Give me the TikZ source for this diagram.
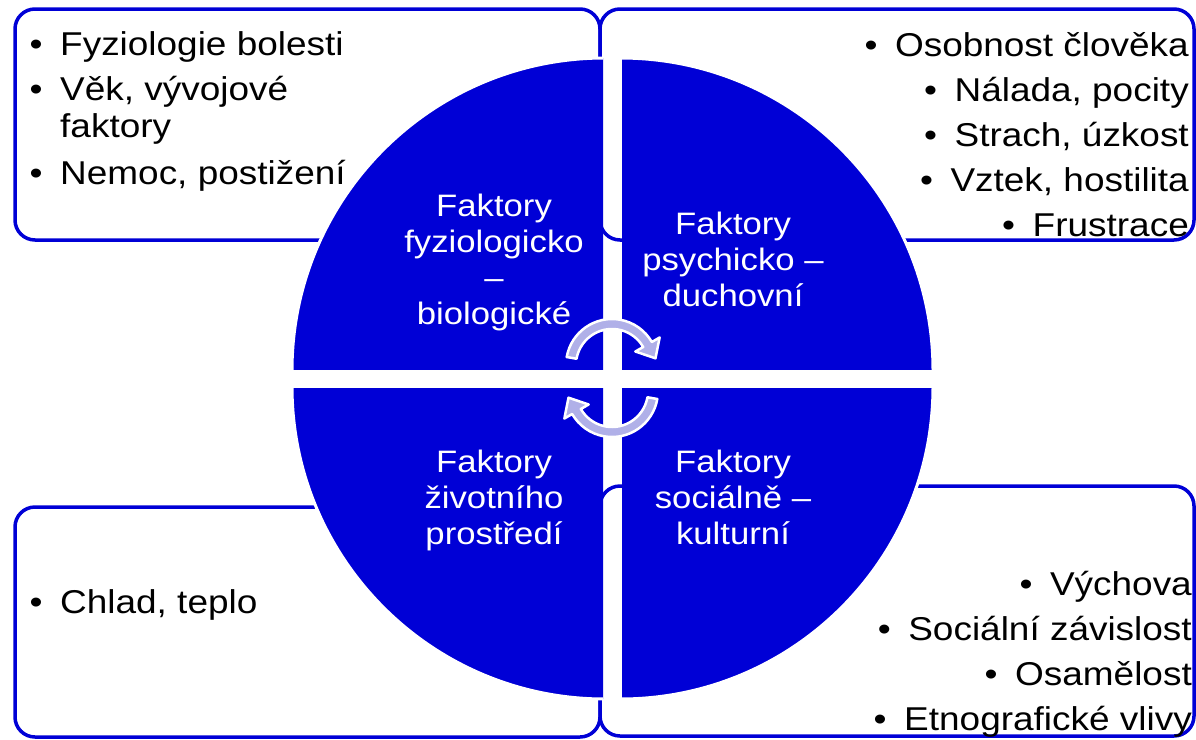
\documentclass[tikz,border=0pt]{standalone}
\usepackage{fontspec}
\setmainfont{Liberation Sans}[FakeStretch=1.12]
\definecolor{qblue}{RGB}{0,0,214}
\definecolor{lav}{RGB}{176,176,232}
\newcommand{\bul}{\makebox[30.5pt][l]{•}}
\newcommand{\bulsp}{\makebox[30.5pt][l]{}}
\tikzset{
  box/.style={draw=qblue, line width=3.5pt, rounded corners=20pt, fill=white},
  quad/.style={fill=qblue, draw=white, line width=3pt},
  listL/.style={anchor=base west, align=left, inner sep=0pt, text=black, font=\fontsize{33}{37}\selectfont},
  listR/.style={anchor=base east, align=right, inner sep=0pt, text=black, font=\fontsize{33}{45}\selectfont},
  qlabel/.style={anchor=base, align=center, inner sep=0pt, text=white, font=\fontsize{31}{36}\selectfont},
  cyc/.style={fill=lav, draw=white, line width=2.5pt, line join=round},
}
\begin{document}
\begin{tikzpicture}[x=1pt, y=-1pt]
\useasboundingbox (0,0) rectangle (1196,739);
% boxes
\draw[box] (15,9) rectangle (600,240);
\draw[box] (600,9) rectangle (1194,240);
\draw[box] (15,507) rectangle (600,737);
\draw[box] (600,486) rectangle (1194,736);
% lists (anchored at the baseline of their last line)
\node[listL] (l1) at (29.5,184) {\bul Fyziologie bolesti\\[8pt]\bul Věk, vývojové\\\bulsp faktory\\[10pt]\bul Nemoc, postižení};
\node[listR] (l2) at (1189,236) {\bul Osobnost člověka\\\bul Nálada, pocity\\\bul Strach, úzkost\\\bul Vztek, hostilita\\\bul Frustrace};
\node[listL] (l3) at (29.5,613) {\bul Chlad, teplo};
\node[listR] (l4) at (1192,730) {\bul Výchova\\\bul Sociální závislost\\\bul Osamělost\\\bul Etnografické vlivy};
% quadrants
\begin{scope}
  \clip (270,30) rectangle (603,369);
  \draw[quad] (604.5,370.5) circle[radius=312.5];
\end{scope}
\begin{scope}
  \clip (622,30) rectangle (960,369);
  \draw[quad] (620.5,370.5) circle[radius=312.5];
\end{scope}
\begin{scope}
  \clip (270,388) rectangle (603,730);
  \draw[quad] (604.5,386.5) circle[radius=312.5];
\end{scope}
\begin{scope}
  \clip (622,388) rectangle (960,730);
  \draw[quad] (620.5,386.5) circle[radius=312.5];
\end{scope}
% quadrant labels (anchored at the baseline of their last line)
\node[qlabel] (q1) at (494,324) {Faktory\\fyziologicko\\–\\biologické};
\node[qlabel] (q2) at (733,306) {Faktory\\psychicko –\\duchovní};
\node[qlabel] (q3) at (494,544) {Faktory\\životního\\prostředí};
\node[qlabel] (q4) at (733,544) {Faktory\\sociálně –\\kulturní};
% cycle arrows
\coordinate (c1) at (612,365);
\coordinate (c2) at (612,391);
\draw[cyc] ([shift={(c1)}]170:46pt) arc[start angle=170, end angle=30, radius=46pt]
  -- ([shift={(c1)}]30:55pt) -- ([shift={(c1)}]8.7:44pt) -- ([shift={(c1)}]30:27pt)
  -- ([shift={(c1)}]30:36pt) arc[start angle=30, end angle=170, radius=36pt] -- cycle;
\draw[cyc] ([shift={(c2)}]-10:46pt) arc[start angle=-10, end angle=-150, radius=46pt]
  -- ([shift={(c2)}]-150:55pt) -- ([shift={(c2)}]-171.3:44pt) -- ([shift={(c2)}]-150:27pt)
  -- ([shift={(c2)}]-150:36pt) arc[start angle=-150, end angle=-10, radius=36pt] -- cycle;
\end{tikzpicture}
\end{document}
